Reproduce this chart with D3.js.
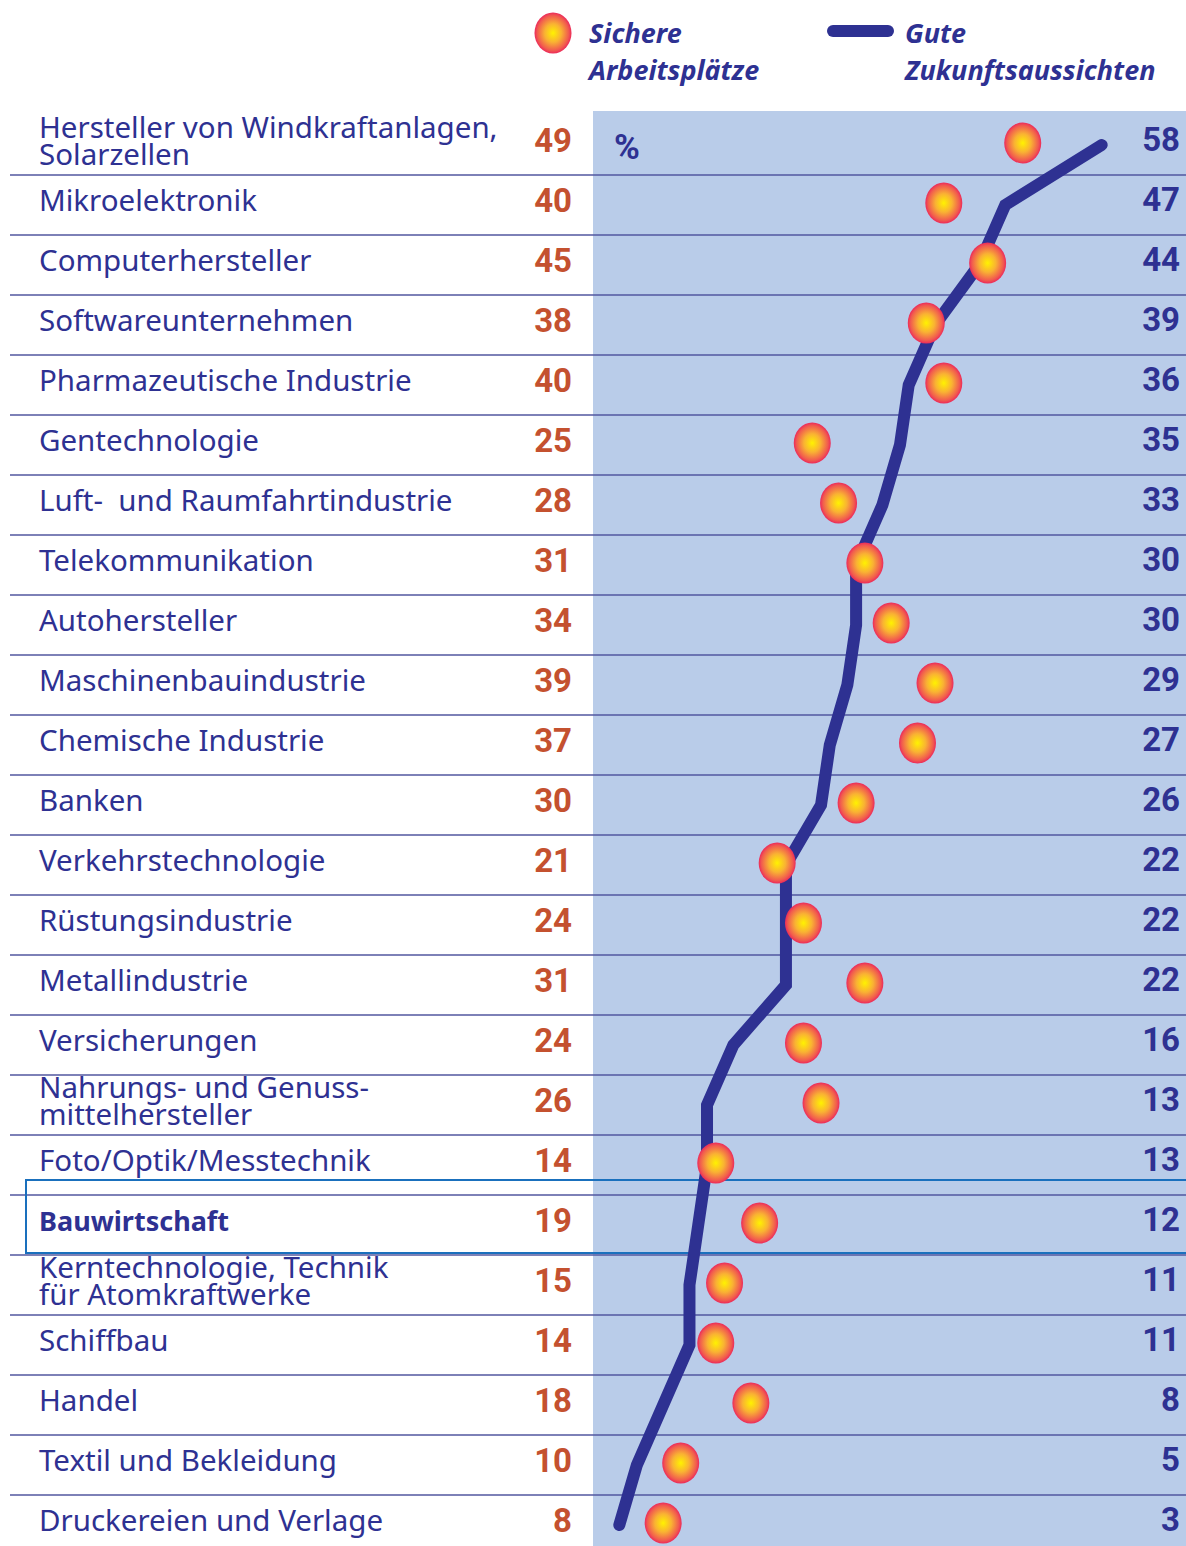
<!DOCTYPE html>
<html>
<head>
<meta charset="utf-8">
<script src="https://cdn.jsdelivr.net/npm/d3@7"></script>
<style>
  body { margin: 0; background: #fff; }
  svg { display: block; }
  text { white-space: pre; }
</style>
</head>
<body>
<svg id="chart"></svg>
<script>
// rows top to bottom; "\n" splits a label onto two lines
const categories = [
  "Hersteller von Windkraftanlagen,\nSolarzellen",
  "Mikroelektronik",
  "Computerhersteller",
  "Softwareunternehmen",
  "Pharmazeutische Industrie",
  "Gentechnologie",
  "Luft-  und Raumfahrtindustrie",
  "Telekommunikation",
  "Autohersteller",
  "Maschinenbauindustrie",
  "Chemische Industrie",
  "Banken",
  "Verkehrstechnologie",
  "Rüstungsindustrie",
  "Metallindustrie",
  "Versicherungen",
  "Nahrungs- und Genuss-\nmittelhersteller",
  "Foto/Optik/Messtechnik",
  "Bauwirtschaft",
  "Kerntechnologie, Technik\nfür Atomkraftwerke",
  "Schiffbau",
  "Handel",
  "Textil und Bekleidung",
  "Druckereien und Verlage"
];
const sichere = [49, 40, 45, 38, 40, 25, 28, 31, 34, 39, 37, 30, 21, 24, 31, 24, 26, 14, 19, 15, 14, 18, 10, 8];
const zukunft = [58, 47, 44, 39, 36, 35, 33, 30, 30, 29, 27, 26, 22, 22, 22, 16, 13, 13, 12, 11, 11, 8, 5, 3];
const highlight = "Bauwirtschaft";

const W = 1186, H = 1546;
const navy = "#2e3192", red = "#c4512f", panel = "#b9cce9", rule = "#52579f";
const labelFont = "'Noto Sans', sans-serif";
const numFont = "'Liberation Sans Narrow', 'Roboto', sans-serif";

const svg = d3.select("#chart").attr("width", W).attr("height", H);

const x = d3.scaleLinear().domain([0, 60]).range([593, 593 + 60 * 8.77]);
const y = d3.scaleBand().domain(categories).range([115, 115 + categories.length * 60]);

const defs = svg.append("defs");
const grad = defs.append("radialGradient").attr("id", "ball").attr("cx", "50%").attr("cy", "50%").attr("r", "50%");
grad.append("stop").attr("offset", "0%").attr("stop-color", "#fff200");
grad.append("stop").attr("offset", "45%").attr("stop-color", "#f9b233");
grad.append("stop").attr("offset", "85%").attr("stop-color", "#f15a4f");
grad.append("stop").attr("offset", "100%").attr("stop-color", "#ec2a5a");

// blue panel
svg.append("rect")
  .attr("x", 593).attr("y", 111)
  .attr("width", W - 593).attr("height", H - 111)
  .attr("fill", panel);

// row separators
svg.append("g").selectAll("line")
  .data(categories.slice(0, -1))
  .join("line")
  .attr("x1", 10).attr("x2", W)
  .attr("y1", d => y(d) + y.bandwidth()).attr("y2", d => y(d) + y.bandwidth())
  .attr("stroke", rule).attr("stroke-width", 1.3);

// highlighted row frame
svg.append("rect")
  .attr("x", 26).attr("y", y(highlight) - 15)
  .attr("width", W).attr("height", y.bandwidth() + 13)
  .attr("fill", "none").attr("stroke", "#1a70bd").attr("stroke-width", 2);

// labels
const labels = svg.append("g").selectAll("text")
  .data(categories)
  .join("text")
  .attr("x", 39)
  .attr("y", d => y(d) + (d.includes("\n") ? 23 : 36))
  .attr("fill", navy)
  .attr("font-family", labelFont)
  .attr("font-size", d => d === highlight ? 27 : 29.5)
  .attr("font-weight", d => d === highlight ? 700 : 400);
labels.selectAll("tspan")
  .data(d => d.split("\n"))
  .join("tspan")
  .attr("x", 39)
  .attr("dy", (d, i) => i === 0 ? 0 : 27)
  .text(d => d);

// left values
svg.append("g").selectAll("text")
  .data(sichere)
  .join("text")
  .attr("x", 572)
  .attr("y", (d, i) => y(categories[i]) + 37)
  .attr("text-anchor", "end")
  .attr("fill", red)
  .attr("font-family", numFont)
  .attr("font-weight", 700)
  .attr("font-size", 33)
  .text(d => d);

// right values
svg.append("g").selectAll("text")
  .data(zukunft)
  .join("text")
  .attr("x", 1180)
  .attr("y", (d, i) => y(categories[i]) + 36)
  .attr("text-anchor", "end")
  .attr("fill", navy)
  .attr("font-family", numFont)
  .attr("font-weight", 700)
  .attr("font-size", 33)
  .text(d => d);

svg.append("text")
  .attr("x", 614).attr("y", 159)
  .attr("fill", navy)
  .attr("font-family", numFont)
  .attr("font-weight", 700)
  .attr("font-size", 35)
  .text("%");

// outlook line
const line = d3.line()
  .x(d => x(d))
  .y((d, i) => y(categories[i]) + y.bandwidth() / 2);

svg.append("path")
  .datum(zukunft)
  .attr("d", line)
  .attr("fill", "none")
  .attr("stroke", navy)
  .attr("stroke-width", 12)
  .attr("stroke-linecap", "round")
  .attr("stroke-linejoin", "miter");

// secure-jobs balls
svg.append("g").selectAll("ellipse")
  .data(sichere)
  .join("ellipse")
  .attr("cx", d => x(d))
  .attr("cy", (d, i) => y(categories[i]) + y.bandwidth() / 2 - 2)
  .attr("rx", 18.5).attr("ry", 20.5)
  .attr("fill", "url(#ball)");

// legend
const legend = svg.append("g");
legend.append("ellipse")
  .attr("cx", 553).attr("cy", 33).attr("rx", 18.5).attr("ry", 20.5)
  .attr("fill", "url(#ball)");
legend.append("line")
  .attr("x1", 833).attr("x2", 888).attr("y1", 31).attr("y2", 31)
  .attr("stroke", navy).attr("stroke-width", 12).attr("stroke-linecap", "round");

const legendText = [
  { x: 589, lines: ["Sichere", "Arbeitsplätze"] },
  { x: 905, lines: ["Gute", "Zukunftsaussichten"] }
];
legend.selectAll("text")
  .data(legendText)
  .join("text")
  .attr("x", d => d.x).attr("y", 43)
  .attr("fill", navy)
  .attr("font-family", labelFont)
  .attr("font-style", "italic")
  .attr("font-weight", 700)
  .attr("font-size", 27)
  .selectAll("tspan")
  .data(d => d.lines.map(t => ({ t, x: d.x })))
  .join("tspan")
  .attr("x", d => d.x)
  .attr("dy", (d, i) => i === 0 ? 0 : 37)
  .text(d => d.t);
</script>
</body>
</html>
